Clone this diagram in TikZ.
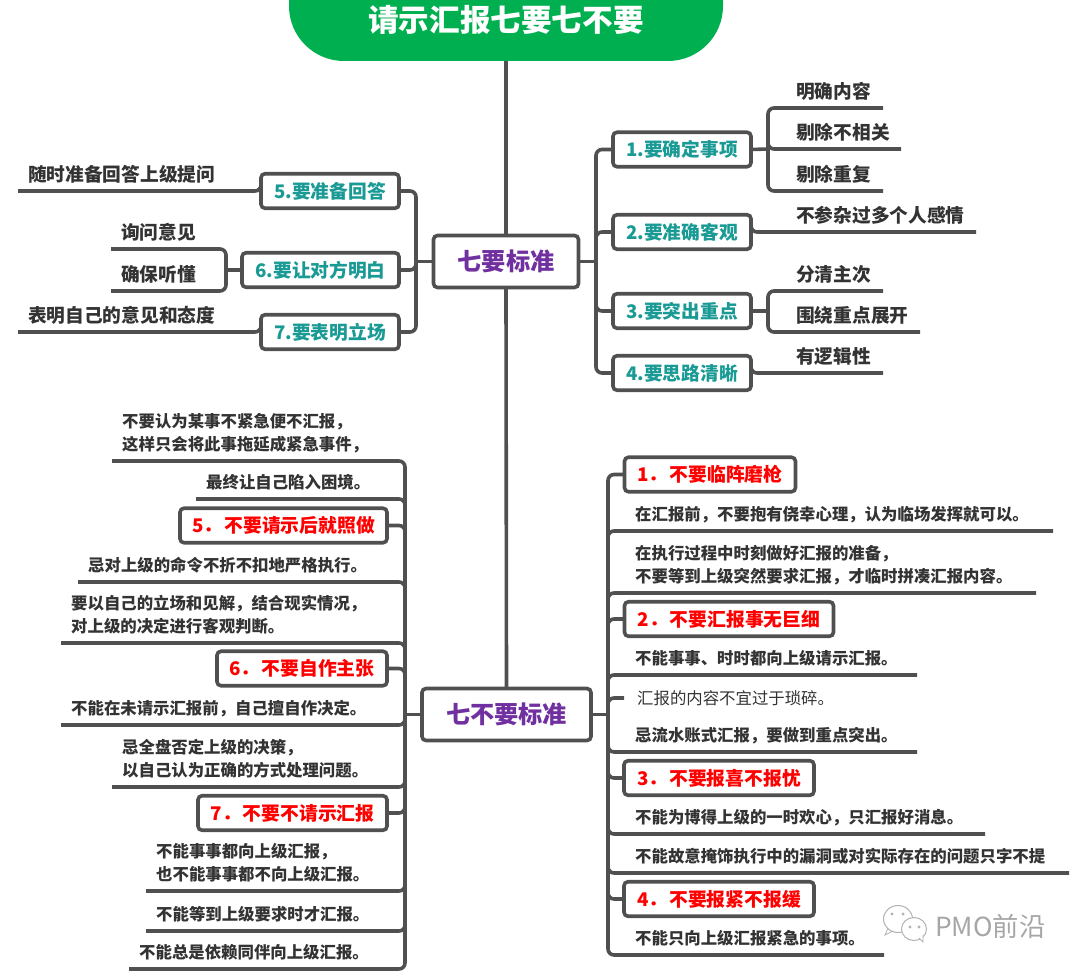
\documentclass[tikz,border=0pt]{standalone}
\usepackage{fontspec}
\setmainfont{Noto Sans CJK SC}
\usepackage{tikz}

\definecolor{boxgreen}{HTML}{00B050}
\definecolor{hubpurple}{HTML}{7030A0}
\definecolor{itemteal}{HTML}{1A9A94}
\definecolor{linegray}{HTML}{505050}
\definecolor{textgray}{HTML}{333333}

\tikzset{
	link/.style={draw=linegray, line width=3.6pt, rounded corners=6pt},
	hubbox/.style={draw=linegray, line width=3.6pt, fill=white, rounded corners=4pt, outer sep=0pt, inner sep=0pt, minimum height=52pt, text=hubpurple, font=\bfseries\fontsize{24.2}{28}\selectfont},
	itembox/.style={draw=linegray, line width=3.6pt, fill=white, rounded corners=4pt, outer sep=0pt, inner sep=0pt, minimum height=34.5pt, text=itemteal, font=\bfseries\fontsize{18.7}{22}\selectfont},
	warnbox/.style={itembox, text=red, font=\bfseries\fontsize{18.8}{22}\selectfont},
	leaf/.style={anchor=south west, inner sep=0pt, align=left, text=textgray, font=\bfseries\fontsize{18.7}{22}\selectfont},
	smallleaf/.style={leaf, font=\bfseries\fontsize{16.4}{22.5}\selectfont}
}

\begin{document}
\begin{tikzpicture}[x=1pt, y=-1pt]
		\useasboundingbox (0,0) rectangle (1080,973);

		% Title and hubs
		\node[fill=boxgreen, rounded corners=55pt, minimum width=434pt, minimum height=122pt, inner sep=0pt, text height=64pt, text depth=0pt, text=white, font=\bfseries\fontsize{30.6}{34}\selectfont] (title) at (506,0) {请示汇报七要七不要};
		\node[hubbox, minimum width=145pt] (yao) at (506,261.5) {七要标准};
		\node[hubbox, minimum width=169pt] (buyao) at (506.5,714.5) {七不要标准};
		\draw[link] (title.south) -- (yao.north);
		\draw[link] (yao.south) -- (buyao.north);

		% Junctions
		\coordinate (yaoR) at (596,261.5);
		\coordinate (yaoL) at (416,261.5);
		\coordinate (buyaoR) at (608,714.5);
		\coordinate (buyaoL) at (405,714.5);
		\coordinate (subA) at (768,149);
		\coordinate (subC) at (768,311);
		\coordinate (subF) at (226,270);
		\draw[link] (yao.east) -- (yaoR);
		\draw[link] (yao.west) -- (yaoL);
		\draw[link] (buyao.east) -- (buyaoR);
		\draw[link] (buyao.west) -- (buyaoL);

		% Seven dos, right
		\foreach \name/\x/\y/\w/\txt in {boxA/682/149.5/138/1.要确定事项, boxB/682/232/138/2.要准确客观, boxC/682/311/138/3.要突出重点, boxD/682/373/138/4.要思路清晰}{
			\draw[link] (yaoR) |- (\x,\y);
			\node[itembox, minimum width=\w pt] (\name) at (\x,\y) {\txt};
		}

		% Seven dos, left
		\foreach \name/\x/\y/\w/\txt in {boxE/330/191/138/5.要准备回答, boxF/320.5/270/157/6.要让对方明白, boxG/330/332/138/7.要表明立场}{
			\draw[link] (yaoL) |- (\x,\y);
			\node[itembox, minimum width=\w pt] (\name) at (\x,\y) {\txt};
		}
		\draw[link] (boxA.east) -- (subA);
		\draw[link] (boxC.east) -- (subC);
		\draw[link] (boxF.west) -- (subF);

		% Leaves of the seven dos
		\foreach \name/\from/\x/\y/\xe/\txt in {lfA/subA/796/108/883/明确内容, lfB/subA/796/149/901/剔除不相关, lfC/subA/796/191/883/剔除重复, lfD/boxB.east/796/232/976/不参杂过多个人感情, lfE/subC/796/291/883/分清主次, lfF/subC/796/332/920/围绕重点展开, lfG/boxD.east/796/373/883/有逻辑性}{
			\node[leaf] (\name) at (\x,\y-3) {\txt\strut};
			\coordinate (\name e) at (\xe,\y);
			\draw[link] (\from) |- (\name e);
		}
		\foreach \name/\from/\x/\y/\xe/\txt in {lfH/boxE.west/28/191/18/随时准备回答上级提问, lfI/subF/121/249/111/询问意见, lfJ/subF/121/291/111/确保听懂, lfK/boxG.west/28/332/18/表明自己的意见和态度}{
			\node[leaf] (\name) at (\x,\y-3) {\txt\strut};
			\coordinate (\name e) at (\xe,\y);
			\draw[link] (\from) |- (\name e);
		}

		% Seven don'ts, right
		\foreach \name/\x/\y/\w/\txt in {warnA/710/474.5/171/1．\kern2pt 不要临阵磨枪, warnB/729/619/209/2．\kern2pt 不要汇报事无巨细, warnC/719/778/190/3．\kern2pt 不要报喜不报忧, warnD/719/899/190/4．\kern2pt 不要报紧不报缓}{
			\draw[link] (buyaoR) |- (\x,\y);
			\node[warnbox, minimum width=\w pt] (\name) at (\x,\y) {\txt};
		}
		\foreach \name/\y/\xe/\txt in {tipA/531/1053/在汇报前，不要抱有侥幸心理，认为临场发挥就可以。, tipB/593/1036/{在执行过程中时刻做好汇报的准备，\\不要等到上级突然要求汇报，才临时拼凑汇报内容。}, tipC/675/917/不能事事、时时都向上级请示汇报。, tipD/752/917/忌流水账式汇报，要做到重点突出。, tipE/834/985/不能为博得上级的一时欢心，只汇报好消息。, tipF/873/1069/不能故意掩饰执行中的漏洞或对实际存在的问题只字不提, tipG/955/884/不能只向上级汇报紧急的事项。}{
			\node[smallleaf] (\name) at (635,\y-4) {\txt\strut};
			\coordinate (\name e) at (\xe,\y);
			\draw[link] (buyaoR) |- (\name e);
		}
		\node[anchor=west, inner sep=0pt, text=textgray, font=\fontsize{16.4}{22}\selectfont] (tipH) at (637,698) {汇报的内容不宜过于琐碎。};
		\coordinate (tipHe) at (624,698);
		\draw[link] (buyaoR) |- (tipHe);

		% Seven don'ts, left
		\foreach \name/\x/\y/\w/\txt in {warnE/283.5/525.5/207/5．\kern2pt 不要请示后就照做, warnF/302/668.5/170/6．\kern2pt 不要自作主张, warnG/292.5/813/189/7．\kern2pt 不要不请示汇报}{
			\draw[link] (buyaoL) |- (\x,\y);
			\node[warnbox, minimum width=\w pt] (\name) at (\x,\y) {\txt};
		}
		\foreach \name/\xs/\y/\txt in {noA/112/461/{不要认为某事不紧急便不汇报，\\这样只会将此事拖延成紧急事件，}, noB/196/499/最终让自己陷入困境。, noC/78/582/忌对上级的命令不折不扣地严格执行。, noD/61/643/{要以自己的立场和见解，结合现实情况，\\对上级的决定进行客观判断。}, noE/61/725/不能在未请示汇报前，自己擅自作决定。, noF/112/787/{忌全盘否定上级的决策，\\以自己认为正确的方式处理问题。}, noG/146/891/{不能事事都向上级汇报，\\也不能事事都不向上级汇报。}, noH/146/931/不能等到上级要求时才汇报。, noI/129/969/不能总是依赖同伴向上级汇报。}{
			\node[smallleaf] (\name) at (\xs+10,\y-4) {\txt\strut};
			\coordinate (\name e) at (\xs,\y);
			\draw[link] (buyaoL) |- (\name e);
		}

		% Watermark
		\draw[gray!60, line width=1pt, fill=white] (898,919) ellipse (14.5pt and 13.5pt);
		\draw[gray!60, line width=0.8pt] (888,928) -- (885,935) -- (893,931);
		\draw[gray!60, line width=1pt, fill=white] (914,929) ellipse (12.5pt and 11.5pt);
		\draw[gray!60, line width=0.8pt, fill=white] (919,938) -- (923,942) -- (923,935);
		\foreach \x/\y in {892/914, 903/914, 910/927, 919/927}
			\fill[gray!60] (\x,\y) circle (1.6pt);
		\node[anchor=west, inner sep=0pt, text=gray!70, font=\fontsize{26.3}{30}\selectfont] (mark) at (935,926) {PMO前沿};
	\end{tikzpicture}
\end{document}
